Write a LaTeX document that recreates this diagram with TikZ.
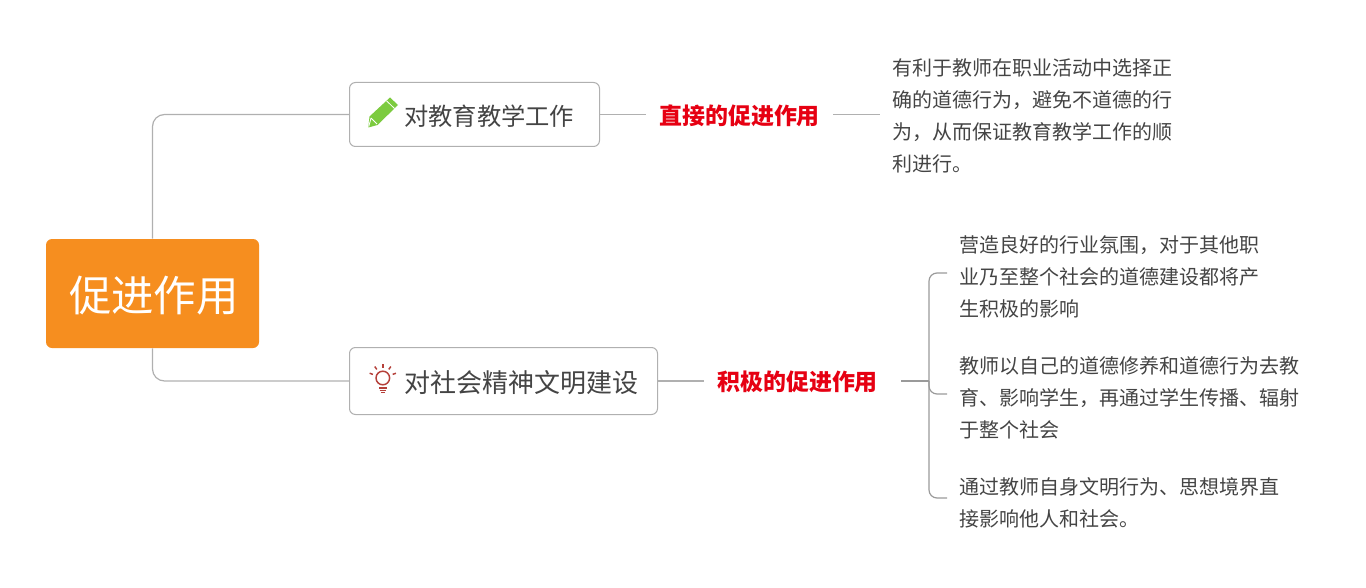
\documentclass[tikz,border=0pt]{standalone}
\usepackage{fontspec}
\setmainfont{Noto Sans CJK SC}
\usetikzlibrary{positioning,calc}
\definecolor{rootfill}{HTML}{F68E1F}
\definecolor{inktext}{HTML}{444444}
\definecolor{linegray}{HTML}{B0B0B0}
\definecolor{bracegray}{HTML}{9A9A9A}
\definecolor{hintred}{HTML}{E60012}
\definecolor{pencilgreen}{HTML}{7CCB3F}
\definecolor{bulbred}{HTML}{B5403A}

\begin{document}
\begin{tikzpicture}[
  x=0.75pt, y=-0.75pt,
  root/.style  = {fill=rootfill, rounded corners=4.5pt, minimum width=159.75pt, minimum height=81.75pt, inner sep=0pt, text=white, font=\fontsize{31.8}{36}\selectfont},
  topic/.style = {draw=linegray, line width=0.75pt, fill=white, rounded corners=4.5pt, inner sep=0pt, text=inktext, anchor=west},
  hint/.style  = {text=hintred, inner xsep=9.75pt, inner ysep=0pt, font=\fontsize{17.2}{20}\selectfont\bfseries},
  body/.style  = {text=inktext, anchor=west, align=left, inner xsep=9pt, inner ysep=0pt, font=\fontsize{15}{24}\selectfont},
  line/.style  = {draw=linegray, line width=0.9pt},
  turn/.style  = {line, rounded corners=9pt},
  brace/.style = {draw=bracegray, line width=0.9pt, rounded corners=6pt}
]
\useasboundingbox (0,0) rectangle (1366,588);

% Nodes
\node[root] (root) at (152.5,293.5) {\raisebox{-13.6pt}[0pt][0pt]{\hspace*{2pt}促进作用}};
\node[topic, minimum width=187.5pt, minimum height=48pt] (edu) at (349,114.5) {};
\node[topic, minimum width=231pt, minimum height=50.25pt] (soc) at (349,381) {};
\node[text=inktext, anchor=west, inner sep=0pt, font=\fontsize{18.2}{22}\selectfont] (edulabel) at (404,116) {对教育教学工作};
\node[text=inktext, anchor=west, inner sep=0pt, font=\fontsize{19.5}{22}\selectfont] (soclabel) at (404,383) {对社会精神文明建设};

\node[hint] (eduhint) at (739.6,115.8) {直接的促进作用};
\node[hint] (sochint) at (797.6,381.8) {积极的促进作用};

\node[body] (edutext) at (880,115.8) {有利于教师在职业活动中选择正\\确的道德行为，避免不道德的行\\为，从而保证教育教学工作的顺\\利进行。};
\node[body] (socone) at (947,276.8) {营造良好的行业氛围，对于其他职\\业乃至整个社会的道德建设都将产\\生积极的影响};
\node[body] (soctwo) at (947,397.8) {教师以自己的道德修养和道德行为去教\\育、影响学生，再通过学生传播、辐射\\于整个社会};
\node[body] (socthree) at (947,502.8) {通过教师自身文明行为、思想境界直\\接影响他人和社会。};
\coordinate (socjoint) at (929,381);

% Connections
\draw[turn] (root.north) |- (edu.west);
\draw[turn] (root.south) |- (soc.west);
\draw[line] (edu.east) -- (edu.east -| eduhint.west);
\draw[line] (eduhint.east |- edu.east) -- (edu.east -| edutext.west);
\draw[line] (soc.east) -- (soc.east -| sochint.west);
\draw[line, draw=bracegray] (socjoint -| sochint.east) ++(7.5pt,0) -- (socjoint);

% Bracket
\draw[brace] (socjoint) |- ([yshift=2.85pt]socone.west);
\draw[brace] (socjoint) |- ([yshift=2.85pt]soctwo.west);
\draw[brace] (socjoint) |- ([yshift=3.6pt]socthree.west);

% Pencil
\fill[pencilgreen] (368.3,127.5) -- (369.5,116.5) -- (390,97.5) -- (398,105) -- (377.5,125) -- cycle;
\draw[white, line width=0.6pt] (386.5,100.8) -- (394.5,108.5);
\draw[white, line width=0.6pt] (371,118) -- (377,124) (371,118) -- (368.8,126.5);

% Bulb
\draw[bulbred, line width=1.1pt] (382.8,378) circle (6.8);
\draw[bulbred, line width=1.1pt] (379,388) -- (386.6,388) (379.5,390.5) -- (386,390.5);
\draw[bulbred, line width=1.1pt] (381,392.6) -- (384.6,392.6);
\foreach \a in {-160,-125,-90,-55,-20}
  \draw[bulbred, line width=1.1pt] ($(382.8,378)+(\a:10.5)$) -- ($(382.8,378)+(\a:14)$);
\end{tikzpicture}
\end{document}
